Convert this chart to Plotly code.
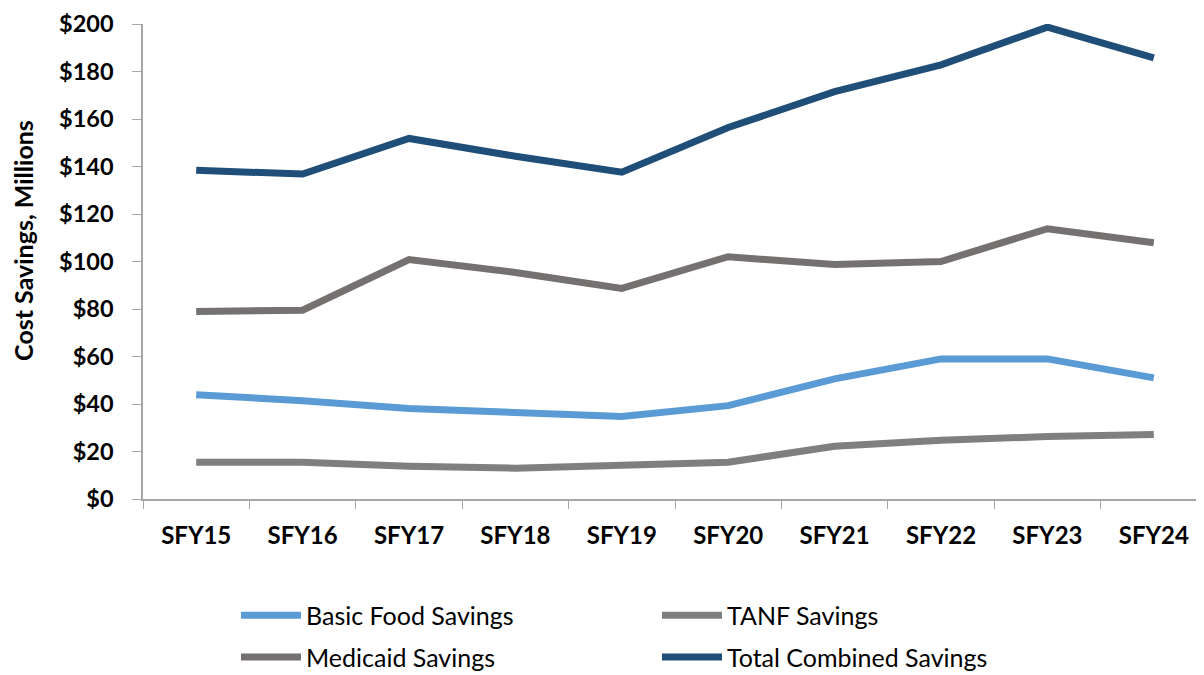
import plotly.graph_objects as go

years = ['SFY15', 'SFY16', 'SFY17', 'SFY18', 'SFY19',
         'SFY20', 'SFY21', 'SFY22', 'SFY23', 'SFY24']

basic_food = [43.9, 41.4, 38.1, 36.4, 34.7, 39.3, 50.6, 59.0, 59.0, 51.0]
tanf = [15.5, 15.5, 13.8, 13.0, 14.2, 15.5, 22.2, 24.7, 26.3, 27.2]
medicaid = [79.0, 79.5, 100.8, 95.4, 88.7, 102.0, 98.7, 100.0, 113.8, 107.9]
total = [138.4, 136.8, 151.8, 144.3, 137.6, 156.4, 171.5, 182.8, 198.7, 185.7]

y_ticks = list(range(0, 201, 20))
y_labels = ['$' + str(v) for v in y_ticks]

# name, values, colour, which legend row
series = [
    ('Basic Food Savings', basic_food, '#5B9BD5', 'legend'),
    ('TANF Savings', tanf, '#7F7F7F', 'legend'),
    ('Medicaid Savings', medicaid, '#767171', 'legend2'),
    ('Total Combined Savings', total, '#1F4E79', 'legend2'),
]

fig = go.Figure()
for name, vals, col, lg in series:
    fig.add_trace(go.Scatter(x=years, y=vals, mode='lines', name=name,
                             legend=lg, line=dict(color=col, width=7)))

legend_style = dict(
    orientation='h', x=0.0874, xanchor='left', yanchor='middle',
    entrywidth=346, entrywidthmode='pixels',
    font=dict(size=25, family='Lato'),
    itemwidth=60, bgcolor='rgba(0,0,0,0)',
)

fig.update_layout(
    width=1204, height=675,
    margin=dict(l=135, r=5, t=16, b=184, autoexpand=False),
    plot_bgcolor='white', paper_bgcolor='white',
    font=dict(family='Lato', color='black'),
    xaxis=dict(
        showline=True, linecolor='#A6A6A6', linewidth=1.5,
        tickson='boundaries', ticks='outside', ticklen=8, tickcolor='#A6A6A6',
        tickfont=dict(size=24, family='Lato', weight='bold'),
        ticklabelstandoff=14,
        range=[-0.5, 9.5], showgrid=False,
    ),
    yaxis=dict(
        range=[0, 200], tickvals=y_ticks, ticktext=y_labels,
        showline=True, linecolor='#A6A6A6', linewidth=1.5,
        ticks='outside', ticklen=9, tickcolor='#A6A6A6',
        tickfont=dict(size=23.5, family='Lato', weight='bold'),
        ticklabelstandoff=14, ticklabeloverflow='allow',
        showgrid=False, zeroline=False,
    ),
    legend=dict(legend_style, y=-0.245),
    legend2=dict(legend_style, y=-0.333),
    annotations=[dict(
        text='Cost Savings, Millions', textangle=-90,
        xref='paper', yref='paper', x=-0.113, y=0.545,
        xanchor='center', yanchor='middle', showarrow=False,
        font=dict(size=25, family='Lato', weight='bold'),
    )],
)

fig.write_html("out.html")
